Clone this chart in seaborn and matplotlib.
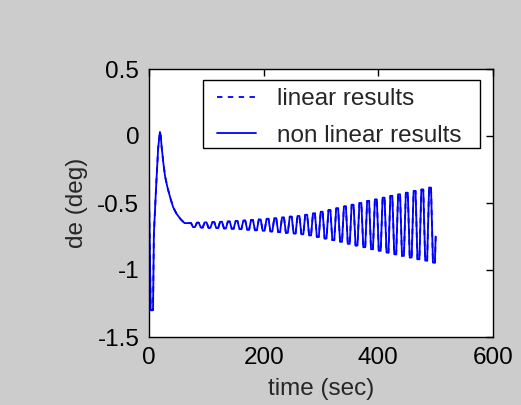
import matplotlib
matplotlib.use("Agg")
import matplotlib.pyplot as plt
from matplotlib.patches import Rectangle
import seaborn as sns
import pandas as pd

# ---- data ----
t_transient = [0, 0.3, 3, 7, 8.5, 12.5, 16, 19, 20.5, 22, 25, 28, 32, 37, 42, 48, 55, 62]
de_transient = [0, -0.5, -1.30, -1.30, -0.73, -0.37, -0.09, 0.03, 0.0, -0.08, -0.20,
                -0.30, -0.38, -0.46, -0.53, -0.58, -0.62, -0.65]

t_high = [70, 83.5, 97, 110.5, 124, 137.5, 151, 164.5, 178, 191.5, 205, 218.5,
          232, 245.5, 259, 272.5, 286, 299.5, 313, 326.5, 340, 353.5, 367, 380.5,
          394, 407.5, 421, 434.5, 448, 461.5, 475, 488.5]
de_high = [-0.650, -0.647, -0.645, -0.643, -0.640, -0.638, -0.635, -0.631, -0.627,
           -0.623, -0.618, -0.613, -0.607, -0.602, -0.597, -0.588, -0.577, -0.565,
           -0.553, -0.540, -0.525, -0.513, -0.500, -0.485, -0.473, -0.460, -0.447,
           -0.435, -0.423, -0.410, -0.400, -0.385]
t_low = [76.75, 90.25, 103.75, 117.25, 130.75, 144.25, 157.75, 171.25, 184.75,
         198.25, 211.75, 225.25, 238.75, 252.25, 265.75, 279.25, 292.75, 306.25,
         319.75, 333.25, 346.75, 360.25, 373.75, 387.25, 400.75, 414.25, 427.75,
         441.25, 454.75, 468.25, 481.75, 495.25]
de_low = [-0.680, -0.683, -0.685, -0.687, -0.690, -0.692, -0.695, -0.699, -0.703,
          -0.707, -0.712, -0.717, -0.723, -0.728, -0.733, -0.742, -0.753, -0.765,
          -0.777, -0.790, -0.805, -0.817, -0.830, -0.845, -0.857, -0.870, -0.883,
          -0.895, -0.907, -0.920, -0.930, -0.945]
t_end = [500]
de_end = [-0.75]

series_names = ["linear results", "non linear results"]
x_ticks = [0, 200, 400, 600]
y_ticks = [-1.5, -1, -0.5, 0, 0.5]
y_tick_labels = ["-1.5", "-1", "-0.5", "0", "0.5"]

# ---- assemble (zero-order hold of each sampled extreme) ----
hold = 3.4
time = list(t_transient)
de = list(de_transient)
for th, dh, tl, dl in zip(t_high, de_high, t_low, de_low):
    time += [th, th + hold, tl, tl + hold]
    de += [dh, dh, dl, dl]
time += t_end
de += de_end

df = pd.DataFrame({"time": time, "de": de})

sns.set_style("white")
plt.rcParams["font.family"] = ["Liberation Sans", "DejaVu Sans"]
FS = 17.5

fig = plt.figure(figsize=(5.21, 4.05), dpi=100, facecolor="#cccccc")
ax = fig.add_axes([149 / 521, 1 - 337 / 405, (493 - 149) / 521, (337 - 69) / 405])
ax.set_facecolor("white")

sns.lineplot(data=df, x="time", y="de", ax=ax, color="#0000ff", lw=1.3,
             linestyle=(0, (3, 3)), estimator=None, sort=False,
             label=series_names[0])
sns.lineplot(data=df, x="time", y="de", ax=ax, color="#0000ff", lw=1.3,
             linestyle="-", estimator=None, sort=False,
             label=series_names[1])

ax.set_xlim(0, 600)
ax.set_ylim(-1.5, 0.5)
ax.set_xticks(x_ticks)
ax.set_xticklabels([str(v) for v in x_ticks])
ax.set_yticks(y_ticks)
ax.set_yticklabels(y_tick_labels)
ax.tick_params(direction="in", top=True, right=True, length=5, width=1,
               labelsize=FS, colors="black", pad=7)
for s in ax.spines.values():
    s.set_visible(True)
    s.set_color("black")
    s.set_linewidth(1)

ax.set_xlabel("time (sec)", fontsize=FS, labelpad=7)
ax.set_ylabel("de (deg)", fontsize=FS, labelpad=7)

# legend box (MATLAB style, drawn as a plain rectangle) + frameless legend
ax.add_patch(Rectangle((203 / 521, 1 - 148 / 405), 277 / 521, 68 / 405,
                       transform=fig.transFigure, facecolor="white",
                       edgecolor="black", lw=1, zorder=4, clip_on=False))
leg = ax.legend(loc="upper left", fontsize=FS, frameon=False, handlelength=1.6,
                handletextpad=0.85, labelspacing=0.6, borderpad=0,
                bbox_to_anchor=(217 / 521, 1 - 88 / 405),
                bbox_transform=fig.transFigure, borderaxespad=0)
leg.set_zorder(5)

fig.savefig("out.png", dpi=100, facecolor=fig.get_facecolor())
